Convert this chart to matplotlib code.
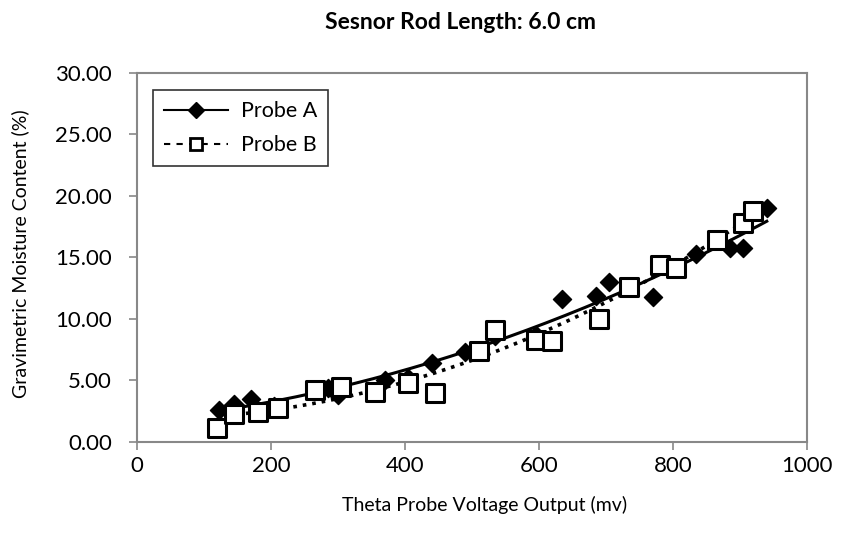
import numpy as np
import matplotlib
matplotlib.use("Agg")
import matplotlib.pyplot as plt
from matplotlib.lines import Line2D

plt.rcParams['font.family'] = ['Lato', 'DejaVu Sans']

# Probe A data (diamonds)
probe_a_x = [122, 145, 170, 205, 285, 300, 370, 405, 440, 490, 535, 595, 635, 685, 705, 770, 835, 885, 905, 940]
probe_a_y = [2.6, 3.1, 3.5, 2.9, 4.4, 3.8, 5.0, 5.2, 6.4, 7.3, 8.6, 8.7, 11.6, 11.9, 13.0, 11.8, 15.3, 15.8, 15.8, 19.0]

# Probe B data (squares)
probe_b_x = [120, 145, 180, 210, 265, 305, 355, 405, 445, 510, 535, 595, 620, 690, 735, 780, 805, 865, 905, 920]
probe_b_y = [1.1, 2.3, 2.4, 2.8, 4.2, 4.5, 4.1, 4.8, 4.0, 7.4, 9.1, 8.3, 8.2, 10.0, 12.6, 14.4, 14.1, 16.4, 17.8, 18.8]

x_ticks = [0, 200, 400, 600, 800, 1000]
y_ticks = [0, 5, 10, 15, 20, 25, 30]

fig = plt.figure(figsize=(8.45, 5.47), dpi=100)
ax = fig.add_axes([0.1621, 0.192, 0.7929, 0.675])

gray = '#888888'

# trendlines (quadratic fits)
for xs, ys, ls in [(probe_a_x, probe_a_y, '-'), (probe_b_x, probe_b_y, ':')]:
    c = np.polyfit(xs, ys, 2)
    xx = np.linspace(min(xs), max(xs), 200)
    ax.plot(xx, np.polyval(c, xx), color='black', lw=2.2 if ls == '-' else 2.6, ls=ls, zorder=2)

ax.scatter(probe_a_x, probe_a_y, marker='D', s=85, color='black', zorder=3)
ax.scatter(probe_b_x, probe_b_y, marker='s', s=170, facecolor='white', edgecolor='black', linewidth=2.2, zorder=4)

ax.set_xlim(0, 1000)
ax.set_ylim(0, 30)
ax.set_xticks(x_ticks)
ax.set_xticklabels([str(t) for t in x_ticks])
ax.set_yticks(y_ticks)
ax.set_yticklabels([f"{t:.2f}" for t in y_ticks])
ax.tick_params(axis='both', direction='out', length=6, width=1.2, color=gray, labelsize=16)
ax.tick_params(axis='y', pad=12)
ax.tick_params(axis='x', pad=4)
for s in ax.spines.values():
    s.set_color(gray)
    s.set_linewidth(1.5)

fig.text(0.545, 0.958, 'Sesnor Rod Length: 6.0 cm', ha='center', va='center', fontsize=16.5, fontweight='bold')
fig.text(0.574, 0.077, 'Theta Probe Voltage Output (mv)', ha='center', va='center', fontsize=14)
fig.text(0.024, 0.537, 'Gravimetric Moisture Content (%)', ha='center', va='center', rotation=90, fontsize=14)

handles = [
    Line2D([], [], color='black', lw=1.5, ls='-', marker='D', markersize=8, markerfacecolor='black'),
    Line2D([], [], color='black', lw=1.5, ls=(0, (3, 3)), marker='s', markersize=8,
           markerfacecolor='white', markeredgecolor='black', markeredgewidth=2),
]
leg = ax.legend(handles, ['Probe A', 'Probe B'], loc='upper left', bbox_to_anchor=(0.024, 0.952),
                fontsize=15.5, frameon=True, fancybox=False, edgecolor='black', handlelength=3.0,
                borderpad=0.5, labelspacing=0.65, handletextpad=0.6, borderaxespad=0)
leg.get_frame().set_linewidth(1.2)

fig.savefig('out.png', dpi=100)
